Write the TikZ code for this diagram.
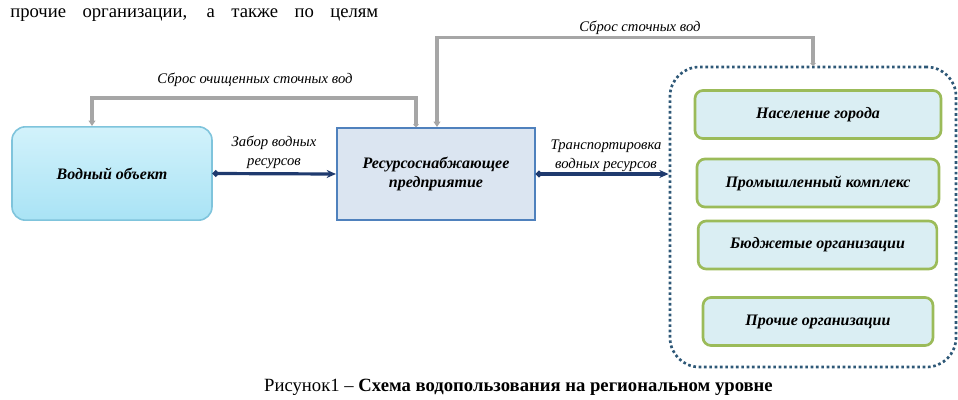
\documentclass[tikz,border=0pt]{standalone}
\usepackage{fontspec}
\setmainfont{Liberation Serif}
\usepackage{tikz}
\usetikzlibrary{arrows.meta,positioning}
\definecolor{navy}{HTML}{1F3A6E}
\definecolor{grline}{HTML}{A6A6A6}
\definecolor{watline}{HTML}{7FC4DC}
\definecolor{wattop}{HTML}{D2F2FB}
\definecolor{watbot}{HTML}{A9E3F5}
\definecolor{entfill}{HTML}{DBE5F1}
\definecolor{entline}{HTML}{4F81BD}
\definecolor{grpline}{HTML}{2E5877}
\definecolor{memfill}{HTML}{DAEEF3}
\definecolor{memline}{HTML}{9BBB59}

\begin{document}
\begin{tikzpicture}[x=0.75pt,y=-0.75pt,box/.style={align=center,font=\bfseries\itshape\fontsize{12}{14}\selectfont,inner sep=3pt},mem/.style={box,draw=memline,fill=memfill,line width=2pt,rounded corners=6pt,minimum height=36pt},lbl/.style={align=center,font=\itshape\fontsize{11}{14}\selectfont,inner sep=1pt},arr/.style={{Circle[length=4.5pt]}-{Stealth[length=7pt,width=6pt]},draw=navy,line width=2.4pt},back/.style={{Circle[length=3.5pt]}-{Triangle[length=4pt,width=5pt]},draw=grline,line width=2.6pt}]
\useasboundingbox (0,0) rectangle (958,400);
\node[anchor=base west,inner sep=0,font=\fontsize{14}{16}\selectfont] (txt) at (10,17) {\makebox[276pt][s]{прочие организации, а также по целям}};
\node[box,draw=watline,top color=wattop,bottom color=watbot,line width=1.2pt,rounded corners=10pt,minimum width=150pt,minimum height=70pt] (wat) at (112,173.5) {Водный объект};
\node[box,draw=entline,fill=entfill,line width=1.5pt,minimum width=148.5pt,minimum height=69pt] (ent) at (436,174) {Ресурсоснабжающее\\предприятие};
\node[draw=grpline,dotted,line width=2pt,rounded corners=22pt,minimum width=214.5pt,minimum height=225pt] (grp) at (813,217) {};
\node[mem,minimum width=184.5pt] (pop) at (818,114.5) {Население города};
\node[mem,minimum width=181.5pt] (ind) at (818,183) {Промышленный комплекс};
\node[mem,minimum width=179pt] (bud) at (817.5,245) {Бюджетые организации};
\node[mem,minimum width=172.5pt] (oth) at (818,321.5) {Прочие организации};
\draw[arr] (wat.east)--(ent.west);
\draw[arr] (ent.east)--(ent.east -| grp.west);
\draw[back] (grp.north)--++(0,-28) -| ([xshift=0.75pt]ent.north);
\draw[back] ([xshift=-15pt]ent.north)--++(0,-29) -| ([xshift=-15pt]wat.north);
\node[lbl] (l1) at (274,152) {Забор водных\\ресурсов};
\node[lbl] (l2) at (606,156) {Транспортировка\\водных ресурсов};
\node[lbl] (l3) at (255,80) {Сброс очищенных сточных вод};
\node[lbl] (l4) at (640,28) {Сброс сточных вод};
\node[anchor=base,inner sep=0,font=\fontsize{14}{16}\selectfont] (cap) at (518.5,391) {Рисунок1 – \textbf{Схема водопользования на региональном уровне}};
\end{tikzpicture}
\end{document}
